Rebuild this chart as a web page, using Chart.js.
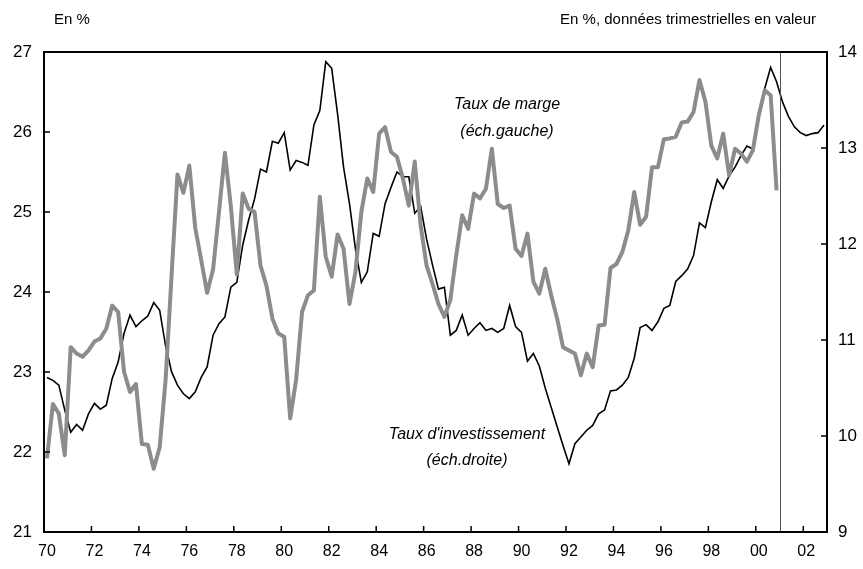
<!DOCTYPE html>
<html>
<head>
<meta charset="utf-8">
<script src="https://cdn.jsdelivr.net/npm/chart.js@4.4.1/dist/chart.umd.min.js"></script>
<style>
  html, body { margin: 0; padding: 0; background: #ffffff; }
  #wrap { width: 863px; height: 569px; position: relative; }
</style>
</head>
<body>
<div id="wrap"><canvas id="c" width="863" height="569"></canvas></div>
<script>
// ---- Data (quarterly, starting 1970 Q1) ----
const startYear = 1970;

// Taux de marge (left scale), 1970Q1 - 2000Q4
const tauxMarge = [
  21.92, 22.60, 22.48, 21.96, 23.31, 23.23, 23.19, 23.27, 23.38, 23.42,
  23.54, 23.83, 23.75, 23.00, 22.75, 22.85, 22.10, 22.09, 21.79, 22.06,
  22.90, 24.20, 25.47, 25.24, 25.58, 24.80, 24.40, 23.99, 24.28, 25.00,
  25.74, 25.07, 24.22, 25.23, 25.04, 25.00, 24.33, 24.08, 23.67, 23.48,
  23.44, 22.42, 22.90, 23.75, 23.96, 24.02, 25.19, 24.44, 24.19, 24.72,
  24.54, 23.85, 24.25, 25.00, 25.42, 25.25, 25.98, 26.06, 25.75, 25.69,
  25.42, 25.08, 25.63, 24.83, 24.33, 24.10, 23.85, 23.69, 23.90, 24.46,
  24.96, 24.79, 25.23, 25.17, 25.29, 25.79, 25.10, 25.05, 25.08, 24.54,
  24.45, 24.73, 24.13, 23.98, 24.29, 23.96, 23.67, 23.31, 23.27, 23.23,
  22.96, 23.23, 23.06, 23.58, 23.59, 24.30, 24.35, 24.50, 24.77, 25.25,
  24.84, 24.94, 25.56, 25.56, 25.91, 25.92, 25.94, 26.12, 26.13, 26.25,
  26.65, 26.38, 25.83, 25.67, 25.98, 25.46, 25.79, 25.73, 25.63, 25.77,
  26.21, 26.52, 26.46, 25.27
];

// Taux d'investissement (right scale), 1970Q1 - 2002Q4
const tauxInvest = [
  10.61, 10.58, 10.53, 10.27, 10.04, 10.12, 10.06, 10.23, 10.34, 10.28,
  10.32, 10.60, 10.77, 11.07, 11.26, 11.14, 11.20, 11.25, 11.39, 11.31,
  10.94, 10.67, 10.53, 10.44, 10.39, 10.46, 10.61, 10.72, 11.05, 11.17,
  11.24, 11.55, 11.60, 11.99, 12.25, 12.47, 12.78, 12.75, 13.07, 13.05,
  13.16, 12.77, 12.87, 12.85, 12.82, 13.24, 13.39, 13.90, 13.83, 13.35,
  12.80, 12.42, 11.95, 11.60, 11.71, 12.11, 12.08, 12.42, 12.59, 12.75,
  12.70, 12.70, 12.32, 12.39, 12.05, 11.78, 11.53, 11.55, 11.05, 11.10,
  11.26, 11.05, 11.12, 11.18, 11.10, 11.12, 11.08, 11.12, 11.36, 11.14,
  11.08, 10.78, 10.86, 10.73, 10.50, 10.30, 10.10, 9.90, 9.71, 9.92,
  9.99, 10.06, 10.11, 10.23, 10.27, 10.47, 10.48, 10.53, 10.61, 10.81,
  11.13, 11.16, 11.10, 11.19, 11.33, 11.36, 11.61, 11.67, 11.74, 11.88,
  12.22, 12.17, 12.44, 12.67, 12.58, 12.71, 12.80, 12.92, 13.02, 12.99,
  13.36, 13.62, 13.84, 13.69, 13.48, 13.33, 13.22, 13.16, 13.13, 13.15,
  13.16, 13.24
];

// Ticks / labels
const xTickYears = [1970, 1972, 1974, 1976, 1978, 1980, 1982, 1984, 1986, 1988,
                    1990, 1992, 1994, 1996, 1998, 2000, 2002];
const leftTicks = [21, 22, 23, 24, 25, 26, 27];
const rightTicks = [9, 10, 11, 12, 13, 14];
const separatorYear = 2001.0;

const headerLeft = "En %";
const headerRight = "En %, données trimestrielles en valeur";
const labelMarge = ["Taux de marge", "(éch.gauche)"];
const labelInvest = ["Taux d'investissement", "(éch.droite)"];

// ---- Build points ----
const toPoints = arr => arr.map((v, i) => ({ x: startYear + (i + 0.5) / 4, y: v }));

const FONT = "'Liberation Sans', Arial, sans-serif";
Chart.defaults.font.family = FONT;
Chart.defaults.color = '#000';

const decorPlugin = {
  id: 'decor',
  afterDatasetsDraw(chart) {
    const { ctx, chartArea: a, scales } = chart;
    const xs = scales.x, yl = scales.yL, yr = scales.yR;
    ctx.save();
    // separator line
    const sx = xs.getPixelForValue(separatorYear);
    ctx.strokeStyle = '#555555';
    ctx.lineWidth = 1;
    ctx.beginPath();
    ctx.moveTo(Math.round(sx) + 0.5, a.top);
    ctx.lineTo(Math.round(sx) + 0.5, a.bottom);
    ctx.stroke();

    // inward tick marks
    ctx.strokeStyle = '#000';
    ctx.lineWidth = 1.5;
    ctx.beginPath();
    xTickYears.forEach(v => {
      const px = xs.getPixelForValue(v);
      ctx.moveTo(px, a.bottom);
      ctx.lineTo(px, a.bottom - 6);
    });
    leftTicks.forEach(v => {
      const py = yl.getPixelForValue(v);
      ctx.moveTo(a.left, py);
      ctx.lineTo(a.left + 6, py);
    });
    rightTicks.forEach(v => {
      const py = yr.getPixelForValue(v);
      ctx.moveTo(a.right, py);
      ctx.lineTo(a.right - 6, py);
    });
    ctx.stroke();

    // frame
    ctx.lineWidth = 2;
    ctx.strokeRect(a.left, a.top, a.right - a.left, a.bottom - a.top);

    // annotations
    ctx.fillStyle = '#000';
    ctx.textAlign = 'center';
    ctx.textBaseline = 'middle';
    ctx.font = 'italic 16px ' + FONT;
    ctx.fillText(labelMarge[0], 507, 105);
    ctx.fillText(labelMarge[1], 507, 132);
    ctx.fillText(labelInvest[0], 467, 435);
    ctx.fillText(labelInvest[1], 467, 461);

    // headers
    ctx.font = '15px ' + FONT;
    ctx.textAlign = 'left';
    ctx.fillText(headerLeft, 54, 20);
    ctx.textAlign = 'right';
    ctx.fillText(headerRight, 816, 20);
    ctx.restore();
  }
};

new Chart(document.getElementById('c'), {
  type: 'line',
  data: {
    datasets: [
      {
        label: 'Taux de marge',
        data: toPoints(tauxMarge),
        yAxisID: 'yL',
        borderColor: '#8c8c8c',
        borderWidth: 4,
        pointRadius: 0,
        tension: 0,
        fill: false,
        borderJoinStyle: 'round'
      },
      {
        label: "Taux d'investissement",
        data: toPoints(tauxInvest),
        yAxisID: 'yR',
        borderColor: '#000000',
        borderWidth: 1.6,
        pointRadius: 0,
        tension: 0,
        fill: false
      }
    ]
  },
  options: {
    responsive: false,
    animation: false,
    devicePixelRatio: 1,
    layout: { padding: { top: 52, left: 0, right: 0, bottom: 0 } },
    plugins: { legend: { display: false }, tooltip: { enabled: false }, title: { display: false } },
    scales: {
      x: {
        type: 'linear',
        min: 1970,
        max: 2003,
        grid: { display: false, drawTicks: false },
        border: { display: false },
        afterBuildTicks: s => { s.ticks = xTickYears.map(v => ({ value: v })); },
        afterFit: s => { s.height = 37; },
        ticks: {
          padding: 10,
          labelOffset: 3,
          maxRotation: 0,
          autoSkip: false,
          font: { size: 16 },
          callback: v => String(v % 100).padStart(2, '0')
        }
      },
      yL: {
        type: 'linear',
        position: 'left',
        min: 21,
        max: 27,
        grid: { display: false, drawTicks: false },
        border: { display: false },
        afterBuildTicks: s => { s.ticks = leftTicks.map(v => ({ value: v })); },
        afterFit: s => { s.width = 44; },
        ticks: { padding: 12, font: { size: 17 } }
      },
      yR: {
        type: 'linear',
        position: 'right',
        min: 9,
        max: 14,
        grid: { display: false, drawTicks: false },
        border: { display: false },
        afterBuildTicks: s => { s.ticks = rightTicks.map(v => ({ value: v })); },
        afterFit: s => { s.width = 36; },
        ticks: { padding: 11, font: { size: 17 } }
      }
    }
  },
  plugins: [decorPlugin]
});
</script>
</body>
</html>
